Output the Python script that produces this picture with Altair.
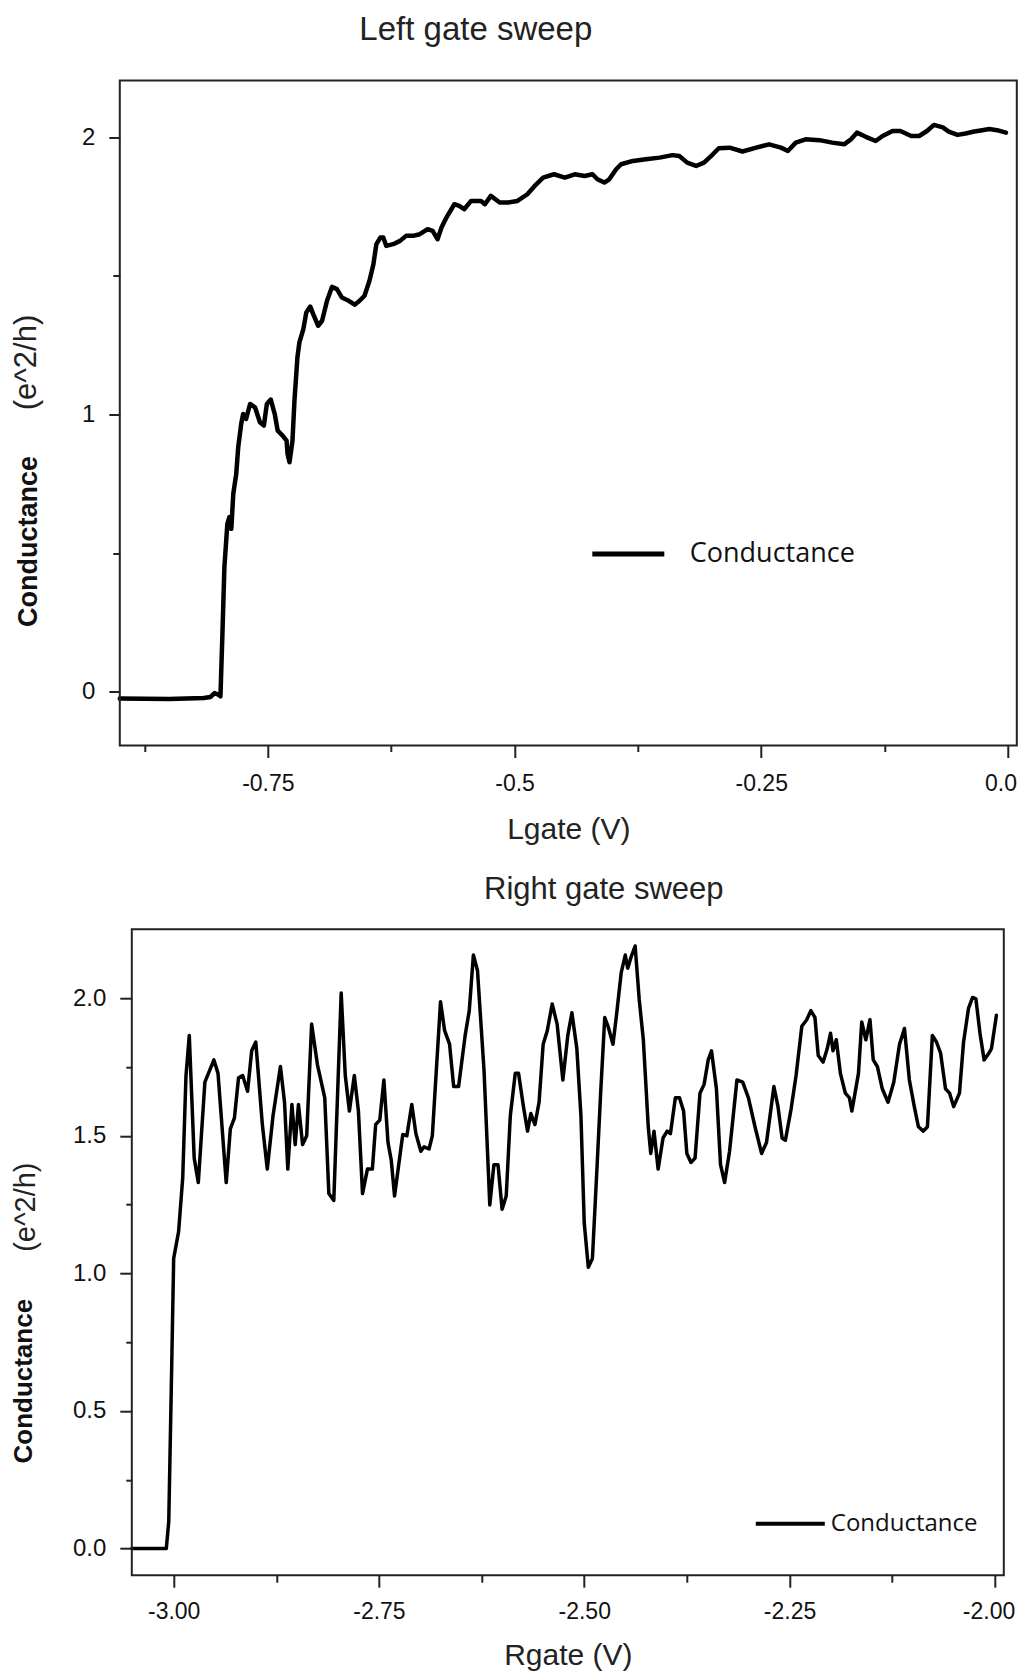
import json
import altair as alt
import pandas as pd

# ---------------- data: left gate sweep ----------------
lg_v = [-0.900, -0.850, -0.815, -0.808, -0.804, -0.800, -0.798, -0.796, -0.794, -0.791,
        -0.789, -0.787, -0.785, -0.782, -0.780, -0.777, -0.775, -0.772, -0.768, -0.763,
        -0.758, -0.754, -0.751, -0.747, -0.743, -0.740, -0.735, -0.731, -0.730, -0.728,
        -0.725, -0.723, -0.720, -0.718, -0.714, -0.711, -0.707, -0.704, -0.699, -0.695,
        -0.690, -0.685, -0.680, -0.675, -0.668, -0.662, -0.657, -0.652, -0.647, -0.643,
        -0.640, -0.636, -0.633, -0.630, -0.623, -0.616, -0.610, -0.603, -0.596, -0.588,
        -0.583, -0.578, -0.574, -0.569, -0.561, -0.556, -0.551, -0.544, -0.534, -0.530,
        -0.524, -0.515, -0.507, -0.497, -0.487, -0.478, -0.471, -0.460, -0.449, -0.439,
        -0.429, -0.421, -0.416, -0.409, -0.404, -0.397, -0.392, -0.380, -0.367, -0.353,
        -0.340, -0.333, -0.325, -0.316, -0.308, -0.299, -0.293, -0.282, -0.269, -0.255,
        -0.242, -0.230, -0.223, -0.215, -0.205, -0.191, -0.178, -0.166, -0.159, -0.153,
        -0.144, -0.134, -0.127, -0.117, -0.109, -0.098, -0.090, -0.082, -0.075, -0.066,
        -0.060, -0.051, -0.043, -0.034, -0.026, -0.019, -0.011, -0.002]
lg_g = [-0.024, -0.025, -0.022, -0.018, -0.004, -0.010, -0.016, 0.210, 0.450, 0.606,
        0.630, 0.588, 0.714, 0.786, 0.882, 0.966, 1.002, 0.984, 1.038, 1.026,
        0.972, 0.960, 1.038, 1.054, 1.002, 0.942, 0.924, 0.906, 0.858, 0.828,
        0.906, 1.050, 1.206, 1.260, 1.308, 1.368, 1.389, 1.362, 1.320, 1.338,
        1.410, 1.460, 1.452, 1.422, 1.410, 1.396, 1.410, 1.428, 1.482, 1.542,
        1.614, 1.638, 1.638, 1.608, 1.614, 1.626, 1.644, 1.644, 1.650, 1.668,
        1.662, 1.632, 1.674, 1.710, 1.758, 1.752, 1.740, 1.770, 1.770, 1.758,
        1.788, 1.764, 1.764, 1.770, 1.794, 1.830, 1.854, 1.866, 1.854, 1.866,
        1.860, 1.866, 1.848, 1.836, 1.848, 1.884, 1.902, 1.914, 1.920, 1.926,
        1.935, 1.932, 1.908, 1.896, 1.908, 1.938, 1.960, 1.962, 1.948, 1.962,
        1.974, 1.962, 1.950, 1.980, 1.992, 1.989, 1.980, 1.974, 1.992, 2.016,
        2.001, 1.986, 2.004, 2.022, 2.022, 2.004, 2.004, 2.022, 2.044, 2.035,
        2.020, 2.008, 2.013, 2.020, 2.025, 2.029, 2.025, 2.016]

# ---------------- data: right gate sweep ----------------
rg_v = [-3.051, -3.009, -3.006, -3.003, -3.000, -2.994, -2.989, -2.985, -2.981, -2.975,
        -2.970, -2.962, -2.951, -2.946, -2.936, -2.931, -2.926, -2.921, -2.916, -2.910,
        -2.905, -2.900, -2.892, -2.886, -2.879, -2.870, -2.865, -2.861, -2.856, -2.852,
        -2.848, -2.843, -2.838, -2.832, -2.825, -2.816, -2.811, -2.805, -2.796, -2.791,
        -2.786, -2.780, -2.775, -2.770, -2.764, -2.758, -2.754, -2.749, -2.744, -2.739,
        -2.735, -2.731, -2.721, -2.716, -2.710, -2.705, -2.699, -2.695, -2.689, -2.685,
        -2.675, -2.670, -2.664, -2.659, -2.653, -2.645, -2.640, -2.635, -2.630, -2.622,
        -2.615, -2.610, -2.605, -2.600, -2.595, -2.590, -2.584, -2.580, -2.574, -2.569,
        -2.565, -2.560, -2.555, -2.550, -2.545, -2.539, -2.533, -2.526, -2.520, -2.515,
        -2.509, -2.504, -2.500, -2.495, -2.490, -2.484, -2.480, -2.475, -2.471, -2.465,
        -2.461, -2.455, -2.450, -2.447, -2.443, -2.438, -2.433, -2.428, -2.422, -2.419,
        -2.415, -2.410, -2.404, -2.399, -2.395, -2.389, -2.384, -2.379, -2.375, -2.370,
        -2.365, -2.359, -2.354, -2.349, -2.345, -2.339, -2.334, -2.329, -2.323, -2.314,
        -2.307, -2.300, -2.292, -2.284, -2.278, -2.269, -2.264, -2.259, -2.255, -2.248,
        -2.242, -2.235, -2.229, -2.224, -2.219, -2.215, -2.209, -2.204, -2.200, -2.197,
        -2.193, -2.188, -2.182, -2.177, -2.174, -2.166, -2.162, -2.157, -2.152, -2.148,
        -2.143, -2.137, -2.130, -2.123, -2.116, -2.110, -2.104, -2.098, -2.093, -2.087,
        -2.082, -2.076, -2.071, -2.066, -2.060, -2.055, -2.050, -2.043, -2.038, -2.032,
        -2.027, -2.023, -2.018, -2.013, -2.007, -2.004, -1.998]
rg_g = [0.000, 0.000, 0.097, 0.568, 1.054, 1.152, 1.346, 1.719, 1.865, 1.419,
        1.330, 1.695, 1.776, 1.727, 1.330, 1.525, 1.565, 1.711, 1.719, 1.662,
        1.809, 1.841, 1.541, 1.379, 1.573, 1.752, 1.622, 1.379, 1.614, 1.468,
        1.614, 1.468, 1.500, 1.906, 1.760, 1.638, 1.290, 1.265, 2.019, 1.719,
        1.590, 1.719, 1.590, 1.290, 1.379, 1.379, 1.541, 1.557, 1.703, 1.476,
        1.411, 1.281, 1.505, 1.500, 1.614, 1.508, 1.444, 1.460, 1.452, 1.500,
        1.987, 1.882, 1.833, 1.679, 1.679, 1.865, 1.955, 2.157, 2.101, 1.736,
        1.249, 1.395, 1.395, 1.233, 1.281, 1.573, 1.727, 1.727, 1.606, 1.517,
        1.581, 1.541, 1.622, 1.833, 1.882, 1.979, 1.906, 1.703, 1.865, 1.947,
        1.817, 1.573, 1.184, 1.022, 1.054, 1.411, 1.655, 1.930, 1.898, 1.833,
        1.930, 2.092, 2.157, 2.109, 2.149, 2.190, 1.995, 1.849, 1.533, 1.436,
        1.517, 1.379, 1.492, 1.517, 1.508, 1.638, 1.638, 1.590, 1.436, 1.403,
        1.419, 1.655, 1.687, 1.776, 1.809, 1.671, 1.395, 1.330, 1.444, 1.703,
        1.695, 1.638, 1.533, 1.436, 1.476, 1.679, 1.606, 1.492, 1.484, 1.598,
        1.719, 1.898, 1.922, 1.955, 1.930, 1.792, 1.768, 1.817, 1.873, 1.809,
        1.849, 1.727, 1.655, 1.638, 1.590, 1.727, 1.914, 1.849, 1.922, 1.776,
        1.752, 1.671, 1.622, 1.695, 1.833, 1.890, 1.703, 1.606, 1.533, 1.517,
        1.533, 1.865, 1.841, 1.801, 1.671, 1.655, 1.606, 1.655, 1.841, 1.963,
        2.003, 1.998, 1.873, 1.776, 1.801, 1.817, 1.938]

series_name = "Conductance"
ytitle_main = ["Conductance"]
ytitle_unit = ["(e^2/h)"]

top_title = ["Left gate sweep"]
bot_title = ["Right gate sweep"]
top_xtitle = "Lgate (V)"
bot_xtitle = "Rgate (V)"

top_xticks = [-0.75, -0.5, -0.25, 0.0]
top_xtick_labels = ["-0.75", "-0.5", "-0.25", "0.0"]
top_xminor = [-0.875, -0.625, -0.375, -0.125]
top_yticks = [0, 1, 2]
top_yminor = [0.5, 1.5]

bot_xticks = [-3.0, -2.75, -2.5, -2.25, -2.0]
bot_xtick_labels = ["-3.00", "-2.75", "-2.50", "-2.25", "-2.00"]
bot_xminor = [-2.875, -2.625, -2.375, -2.125]
bot_yticks = [0.0, 0.5, 1.0, 1.5, 2.0]
bot_yminor = [0.25, 0.75, 1.25, 1.75]

FONT = "Liberation Sans, Arial, Helvetica, sans-serif"
LEGFONT = "Open Sans, Noto Sans, sans-serif"
INK = "#111111"
FRAME = "#222222"


def lab_expr(vals, labs):
    return f"{json.dumps(labs)}[indexof({json.dumps(vals)}, datum.value)]"


def panel(v, g, xdom, ydom, x0, w, h, xt, xtl, xm, yt, ym, yfmt,
          title, title_size, title_x, title_y, xtitle, xtitle_y,
          lw, leg_x, leg_y, leg_len, leg_font, leg_off,
          main_x, main_y, main_size, unit_x, unit_y, unit_size,
          xtick, xminor_tick, ytick, yminor_tick, xlabpad, ylabpad, flush_off):
    # x0: left edge of the framed plot inside the panel group
    df = pd.DataFrame({"v": v, "g": g, "s": [series_name] * len(v)})
    xs = alt.Scale(domain=xdom, nice=False, zero=False, range=[x0, x0 + w])
    ys = alt.Scale(domain=ydom, nice=False, zero=False)
    line = alt.Chart(df).mark_line(
        strokeWidth=lw, strokeJoin="round", strokeCap="round"
    ).encode(
        x=alt.X("v:Q", scale=xs, axis=alt.Axis(
            values=xt, labelExpr=lab_expr(xt, xtl), orient="bottom",
            title=xtitle, titleFont=FONT, titleFontSize=30, titleFontWeight="normal",
            titleColor="#222222", titleBaseline="alphabetic", titleY=xtitle_y,
            titleX=x0 + w / 2, titleAnchor="middle",
            labelFont=FONT, labelFontSize=23, labelColor=INK, labelPadding=xlabpad,
            labelFlush=10, labelFlushOffset=flush_off, labelOverlap=False,
            tickSize=xtick, tickWidth=2, tickColor=FRAME, domain=False, grid=False)),
        y=alt.Y("g:Q", scale=ys, axis=alt.Axis(
            values=yt, format=yfmt, orient="left", title=None, offset=-x0,
            labelFont=FONT, labelFontSize=24, labelColor=INK, labelPadding=ylabpad,
            labelFlush=False, labelOverlap=False,
            tickSize=ytick, tickWidth=2, tickColor=FRAME, domain=False, grid=False)),
        color=alt.Color("s:N", scale=alt.Scale(range=["black"]), legend=alt.Legend(
            title=None, orient="none", legendX=leg_x, legendY=leg_y,
            symbolType="stroke", symbolSize=leg_len * leg_len, symbolStrokeWidth=lw + 0.5,
            labelFont=LEGFONT, labelFontSize=leg_font, labelColor=INK, labelLimit=300,
            labelOffset=leg_off, padding=0)),
    )
    minor = alt.Chart(df).mark_line(opacity=0).encode(
        x=alt.X("v:Q", scale=xs, axis=alt.Axis(
            values=xm, labels=False, title=None, orient="bottom",
            tickSize=xminor_tick, tickWidth=2, tickColor=FRAME, domain=False, grid=False)),
        y=alt.Y("g:Q", scale=ys, axis=alt.Axis(
            values=ym, labels=False, title=None, orient="left", offset=-x0,
            tickSize=yminor_tick, tickWidth=2, tickColor=FRAME, domain=False, grid=False)),
    )
    frame = alt.Chart(pd.DataFrame({"f": [0]})).mark_rect(
        filled=False, stroke=FRAME, strokeWidth=2
    ).encode(x=alt.value(x0), x2=alt.value(x0 + w), y=alt.value(0), y2=alt.value(h))
    t_title = alt.Chart(pd.DataFrame({"t": title})).mark_text(
        font=FONT, fontSize=title_size, fontWeight="normal", color="#222222",
        align="center", baseline="alphabetic"
    ).encode(x=alt.value(title_x), y=alt.value(title_y), text="t:N")
    t_main = alt.Chart(pd.DataFrame({"t": ytitle_main})).mark_text(
        angle=270, font=FONT, fontSize=main_size, fontWeight="bold", color=INK,
        align="center", baseline="middle"
    ).encode(x=alt.value(main_x), y=alt.value(main_y), text="t:N")
    t_unit = alt.Chart(pd.DataFrame({"t": ytitle_unit})).mark_text(
        angle=270, font=FONT, fontSize=unit_size, fontWeight="normal", color="#222222",
        align="center", baseline="middle"
    ).encode(x=alt.value(unit_x), y=alt.value(unit_y), text="t:N")
    return alt.layer(line, minor, frame, t_title, t_main, t_unit).resolve_axis(
        x="independent", y="independent"
    ).properties(width=x0 + w, height=h)


# top panel: framed plot starts at the panel origin
top = panel(lg_v, lg_g, [-0.9, 0.009], [-0.193, 2.204], 0, 897, 665,
            top_xticks, top_xtick_labels, top_xminor, top_yticks, top_yminor, "d",
            top_title, 33, 356, -40.5, top_xtitle, 93,
            4.5, 470, 435, 72, 27, 23,
            -91, 461, 27, -93, 282, 31,
            12, 6, 11, 7, 15, 14, 8.5)

# bottom panel: framed plot is 12 px further right than the top one
bottom = panel(rg_v, rg_g, [-3.051, -1.989], [-0.097, 2.251], 12, 872, 646,
               bot_xticks, bot_xtick_labels, bot_xminor, bot_yticks, bot_yminor, ".1f",
               bot_title, 31, 484, -30, bot_xtitle, 89,
               3.5, 634, 558, 69, 24, 4,
               -96, 452, 26, -94, 278, 29,
               12, 7, 12, 6, 13, 14, 20)

chart = alt.concat(top, bottom, columns=1, spacing=29.7).resolve_scale(
    color="independent"
).resolve_legend(
    color="independent"
).properties(
    padding={"left": 2.8, "top": 5.5, "right": 0, "bottom": 0}
).configure_view(
    stroke=None
)

chart.save("out.html", embed_options={"renderer": "svg", "actions": False})
